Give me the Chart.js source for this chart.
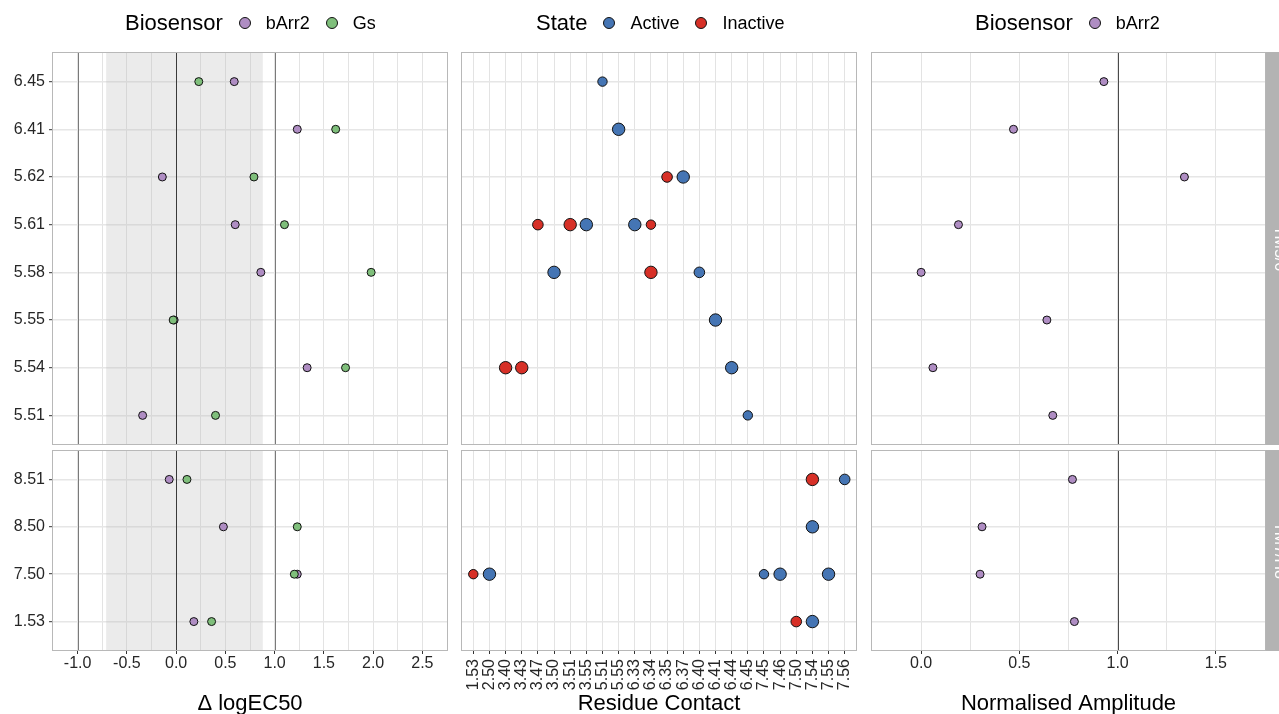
<!DOCTYPE html>
<html>
<head>
<meta charset="utf-8">
<title>Biosensor response, residue contacts and amplitude</title>
<script src="https://cdn.jsdelivr.net/npm/chart.js@4.4.1/dist/chart.umd.min.js"></script>
<style>
  html, body { margin: 0; padding: 0; background: #fff; }
  body { width: 1279px; height: 714px; position: relative; overflow: hidden;
         font-family: "Liberation Sans", Arial, Helvetica, sans-serif; }
  canvas { position: absolute; left: 0; top: 0; }
  .legend { position: absolute; top: 9px; height: 28px; display: flex; align-items: center;
            white-space: nowrap; color: #000; }
  .legend .ttl { font-size: 22px; margin-right: 16px; }
  .legend .key { width: 10px; height: 10px; border-radius: 50%; border: 1px solid #111; margin-right: 15px; }
  .legend .lbl { font-size: 18px; margin-right: 16px; }
</style>
</head>
<body>
<canvas id="ec50Top" width="1279" height="714"></canvas>
<canvas id="ec50Bottom" width="1279" height="714"></canvas>
<canvas id="contactTop" width="1279" height="714"></canvas>
<canvas id="contactBottom" width="1279" height="714"></canvas>
<canvas id="ampTop" width="1279" height="714"></canvas>
<canvas id="ampBottom" width="1279" height="714"></canvas>
<script>
// ---- residue rows of the two facets (top to bottom) ----
const rowsTop = ['6.45', '6.41', '5.62', '5.61', '5.58', '5.55', '5.54', '5.51'];
const rowsBottom = ['8.51', '8.50', '7.50', '1.53'];
const stripLabels = ['TM5/6', 'TM7/H8'];

// ---- Δ logEC50 per biosensor ----
const bArr2Top = [0.59, 1.23, -0.14, 0.60, 0.86, -0.02, 1.33, -0.34];
const gsTop = [0.23, 1.62, 0.79, 1.10, 1.98, -0.03, 1.72, 0.40];
const bArr2Bottom = [-0.07, 0.48, 1.23, 0.18];
const gsBottom = [0.11, 1.23, 1.20, 0.36];
const ec50Ticks = [-1, -0.75, -0.5, -0.25, 0, 0.25, 0.5, 0.75, 1, 1.25, 1.5, 1.75, 2, 2.25, 2.5];
const ec50Labelled = [-1, -0.5, 0, 0.5, 1, 1.5, 2, 2.5];
const ec50Band = [-0.71, 0.88];
const ec50RefLines = [-1, 0, 1];

// ---- residue contacts ----
const contactResidues = ['1.53', '2.50', '3.40', '3.43', '3.47', '3.50', '3.51', '3.55', '5.51', '5.55',
  '6.33', '6.34', '6.35', '6.37', '6.40', '6.41', '6.44', '6.45', '7.45', '7.46', '7.50', '7.54', '7.55', '7.56'];

const topContactRow = ['6.45', '6.41', '5.62', '5.62', '5.61', '5.61', '5.61', '5.61', '5.61',
  '5.58', '5.58', '5.58', '5.55', '5.54', '5.54', '5.54', '5.51'];
const topContactPartner = ['5.51', '5.55', '6.35', '6.37', '3.47', '3.51', '3.55', '6.33', '6.34',
  '3.50', '6.34', '6.40', '6.41', '3.40', '3.43', '6.44', '6.45'];
const topContactState = ['Active', 'Active', 'Inactive', 'Active', 'Inactive', 'Inactive', 'Active', 'Active', 'Inactive',
  'Active', 'Inactive', 'Active', 'Active', 'Inactive', 'Inactive', 'Active', 'Active'];
const topContactCount = [1, 3, 2, 3, 2, 3, 3, 3, 1, 3, 3, 2, 3, 3, 3, 3, 1];

const bottomContactRow = ['8.51', '8.51', '8.50', '7.50', '7.50', '7.50', '7.50', '7.50', '1.53', '1.53'];
const bottomContactPartner = ['7.54', '7.56', '7.54', '1.53', '2.50', '7.45', '7.46', '7.55', '7.50', '7.54'];
const bottomContactState = ['Inactive', 'Active', 'Active', 'Inactive', 'Active', 'Active', 'Active', 'Active', 'Inactive', 'Active'];
const bottomContactCount = [3, 2, 3, 1, 3, 1, 3, 3, 2, 3];

// ---- normalised amplitude (bArr2) ----
const ampTop = [0.93, 0.47, 1.34, 0.19, 0.00, 0.64, 0.06, 0.67];
const ampBottom = [0.77, 0.31, 0.30, 0.78];
const ampTicks = [0, 0.25, 0.5, 0.75, 1, 1.25, 1.5];
const ampLabelled = [0, 0.5, 1, 1.5];
const ampRefLines = [1];

// ---- colours ----
const biosensorColours = { bArr2: '#af8dc3', Gs: '#7fbf7b' };
const stateColours = { Active: '#4575b4', Inactive: '#d73027' };
const countRadius = { 1: 4.7, 2: 5.3, 3: 6.2 };

const W = 1279, H = 714;
Chart.defaults.font.family = "'Liberation Sans', Arial, Helvetica, sans-serif";
Chart.defaults.color = '#262626';

// Shaded band, reference lines, panel border and facet strip
const decor = {
  id: 'decor',
  beforeDatasetsDraw(chart, _args, o) {
    const { ctx, chartArea: a } = chart;
    const x = chart.scales.x;
    ctx.save();
    ctx.beginPath(); ctx.rect(a.left, a.top, a.width, a.height); ctx.clip();
    if (o.band) {
      const x0 = x.getPixelForValue(o.band[0]), x1 = x.getPixelForValue(o.band[1]);
      ctx.fillStyle = 'rgba(185,185,185,0.29)';
      ctx.fillRect(x0, a.top, x1 - x0, a.height);
    }
    (o.refs || []).forEach(v => {
      const px = Math.round(x.getPixelForValue(v)) + 0.5;
      ctx.strokeStyle = v === 0 ? '#3a3a3a' : (o.refColour || '#7a7a7a');
      ctx.lineWidth = 1;
      ctx.beginPath(); ctx.moveTo(px, a.top); ctx.lineTo(px, a.bottom); ctx.stroke();
    });
    ctx.restore();
  },
  afterDraw(chart, _args, o) {
    const { ctx, chartArea: a } = chart;
    ctx.save();
    ctx.strokeStyle = '#b8b8b8';
    ctx.lineWidth = 1;
    ctx.strokeRect(Math.round(a.left) - 0.5, Math.round(a.top) - 0.5, Math.round(a.width) + 1, Math.round(a.height) + 1);
    if (o.strip) {
      ctx.fillStyle = '#b3b3b3';
      ctx.fillRect(Math.round(a.right) + 0.5, Math.round(a.top) - 1, 40, Math.round(a.height) + 2);
      ctx.translate(a.right + 14, (a.top + a.bottom) / 2);
      ctx.rotate(Math.PI / 2);
      ctx.fillStyle = '#fff';
      ctx.font = "16px 'Liberation Sans', Arial, sans-serif";
      ctx.textAlign = 'center';
      ctx.textBaseline = 'middle';
      ctx.fillText(o.strip, 0, 0);
    }
    ctx.restore();
  }
};

function fmt(v) {
  return v.toFixed(1);
}

function makePanel(id, p) {
  const [left, top, right, bottom] = p.area;
  const showY = p.showY, showX = p.showX;
  const rows = p.rows;
  new Chart(document.getElementById(id), {
    type: 'scatter',
    data: { datasets: p.datasets },
    options: {
      responsive: false,
      animation: false,
      devicePixelRatio: 1,
      events: [],
      layout: {
        autoPadding: false,
        padding: { left: showY ? 0 : left, top: top, right: W - right, bottom: showX ? 0 : H - bottom }
      },
      plugins: {
        legend: { display: false },
        tooltip: { enabled: false },
        decor: { band: p.band, refs: p.refs, refColour: p.refColour, strip: p.strip }
      },
      scales: {
        x: {
          type: 'linear',
          min: p.xMin, max: p.xMax,
          afterBuildTicks: s => { s.ticks = p.xTicks.map(v => ({ value: v })); },
          afterFit: s => { s.height = showX ? H - bottom : 0; },
          border: { display: false },
          grid: {
            color: '#e3e3e3', lineWidth: 1,
            drawTicks: showX, tickLength: 4, tickWidth: 1,
            tickColor: c => (c.tick && p.xLabel(c.tick.value) !== '') ? '#333' : 'rgba(0,0,0,0)'
          },
          ticks: {
            display: showX, autoSkip: false,
            maxRotation: p.rotation, minRotation: p.rotation,
            padding: p.tickPad, font: { size: 16 }, color: '#262626',
            callback: v => p.xLabel(v)
          },
          title: {
            display: showX, text: p.xTitle, color: '#000',
            font: { size: 22, lineHeight: 0.95 }, padding: 0
          }
        },
        y: {
          type: 'linear',
          reverse: true,
          min: -0.6, max: rows.length - 0.4,
          afterBuildTicks: s => { s.ticks = rows.map((_, i) => ({ value: i })); },
          afterFit: s => { s.width = showY ? left : 0; },
          border: { display: false },
          grid: { color: '#e6e6e6', lineWidth: 1.4, drawTicks: showY, tickLength: 4, tickWidth: 1, tickColor: '#333' },
          ticks: { display: showY, padding: 4, font: { size: 16 }, color: '#262626', callback: v => rows[v] }
        }
      }
    },
    plugins: [decor]
  });
}

function pointStyle(colour, radius) {
  return { backgroundColor: colour, borderColor: '#111', borderWidth: 1, pointRadius: radius, pointHoverRadius: radius };
}

function ec50Sets(bArr2, gs) {
  return [
    Object.assign({ label: 'bArr2', order: 1, data: bArr2.map((v, i) => ({ x: v, y: i })) }, pointStyle(biosensorColours.bArr2, 4)),
    Object.assign({ label: 'Gs', order: 0, data: gs.map((v, i) => ({ x: v, y: i })) }, pointStyle(biosensorColours.Gs, 4))
  ];
}

function contactSets(rows, rowArr, partnerArr, stateArr, countArr) {
  return ['Active', 'Inactive'].map(state => {
    const data = [];
    rowArr.forEach((r, i) => {
      if (stateArr[i] !== state) return;
      data.push({ x: contactResidues.indexOf(partnerArr[i]), y: rows.indexOf(r), n: countArr[i] });
    });
    return {
      label: state, data,
      backgroundColor: stateColours[state], borderColor: '#111', borderWidth: 1,
      pointRadius: c => countRadius[c.raw ? c.raw.n : 3],
      pointHoverRadius: c => countRadius[c.raw ? c.raw.n : 3]
    };
  });
}

function ampSets(vals) {
  return [Object.assign({ label: 'bArr2', data: vals.map((v, i) => ({ x: v, y: i })) }, pointStyle(biosensorColours.bArr2, 4))];
}

const ec50Label = v => ec50Labelled.includes(v) ? fmt(v) : '';
const ampLabel = v => ampLabelled.includes(v) ? fmt(v) : '';
const contactLabel = v => contactResidues[v] || '';
const contactIdx = contactResidues.map((_, i) => i);

const TOP = [53, 444], BOTTOM = [451, 650];
const COL_L = [53, 447], COL_M = [462, 856], COL_R = [872, 1265];

const ec50Base = { xMin: -1.25, xMax: 2.75, xTicks: ec50Ticks, xLabel: ec50Label, band: ec50Band, refs: ec50RefLines,
  rotation: 0, tickPad: 0, xTitle: '\u0394 logEC50', showY: true };
makePanel('ec50Top', Object.assign({}, ec50Base, { area: [COL_L[0], TOP[0], COL_L[1], TOP[1]], rows: rowsTop, showX: false,
  datasets: ec50Sets(bArr2Top, gsTop) }));
makePanel('ec50Bottom', Object.assign({}, ec50Base, { area: [COL_L[0], BOTTOM[0], COL_L[1], BOTTOM[1]], rows: rowsBottom, showX: true,
  datasets: ec50Sets(bArr2Bottom, gsBottom) }));

const contactBase = { xMin: -0.7, xMax: contactResidues.length - 0.3, xTicks: contactIdx, xLabel: contactLabel,
  rotation: 90, tickPad: 5, xTitle: 'Residue Contact', showY: false };
makePanel('contactTop', Object.assign({}, contactBase, { area: [COL_M[0], TOP[0], COL_M[1], TOP[1]], rows: rowsTop, showX: false,
  datasets: contactSets(rowsTop, topContactRow, topContactPartner, topContactState, topContactCount) }));
makePanel('contactBottom', Object.assign({}, contactBase, { area: [COL_M[0], BOTTOM[0], COL_M[1], BOTTOM[1]], rows: rowsBottom, showX: true,
  datasets: contactSets(rowsBottom, bottomContactRow, bottomContactPartner, bottomContactState, bottomContactCount) }));

const ampBase = { xMin: -0.25, xMax: 1.75, xTicks: ampTicks, xLabel: ampLabel, refs: ampRefLines, refColour: '#4a4a4a',
  rotation: 0, tickPad: 0, xTitle: 'Normalised Amplitude', showY: false };
makePanel('ampTop', Object.assign({}, ampBase, { area: [COL_R[0], TOP[0], COL_R[1], TOP[1]], rows: rowsTop, showX: false,
  strip: stripLabels[0], datasets: ampSets(ampTop) }));
makePanel('ampBottom', Object.assign({}, ampBase, { area: [COL_R[0], BOTTOM[0], COL_R[1], BOTTOM[1]], rows: rowsBottom, showX: true,
  strip: stripLabels[1], datasets: ampSets(ampBottom) }));

// ---- legends ----
function addLegend(left, title, names, colours) {
  const d = document.createElement('div');
  d.className = 'legend';
  d.style.left = left + 'px';
  const t = document.createElement('span');
  t.className = 'ttl'; t.textContent = title;
  d.appendChild(t);
  names.forEach(n => {
    const k = document.createElement('span');
    k.className = 'key'; k.style.background = colours[n];
    const l = document.createElement('span');
    l.className = 'lbl'; l.textContent = n;
    d.appendChild(k); d.appendChild(l);
  });
  document.body.appendChild(d);
}
addLegend(125, 'Biosensor', ['bArr2', 'Gs'], biosensorColours);
addLegend(536, 'State', ['Active', 'Inactive'], stateColours);
addLegend(975, 'Biosensor', ['bArr2'], biosensorColours);
</script>
</body>
</html>
